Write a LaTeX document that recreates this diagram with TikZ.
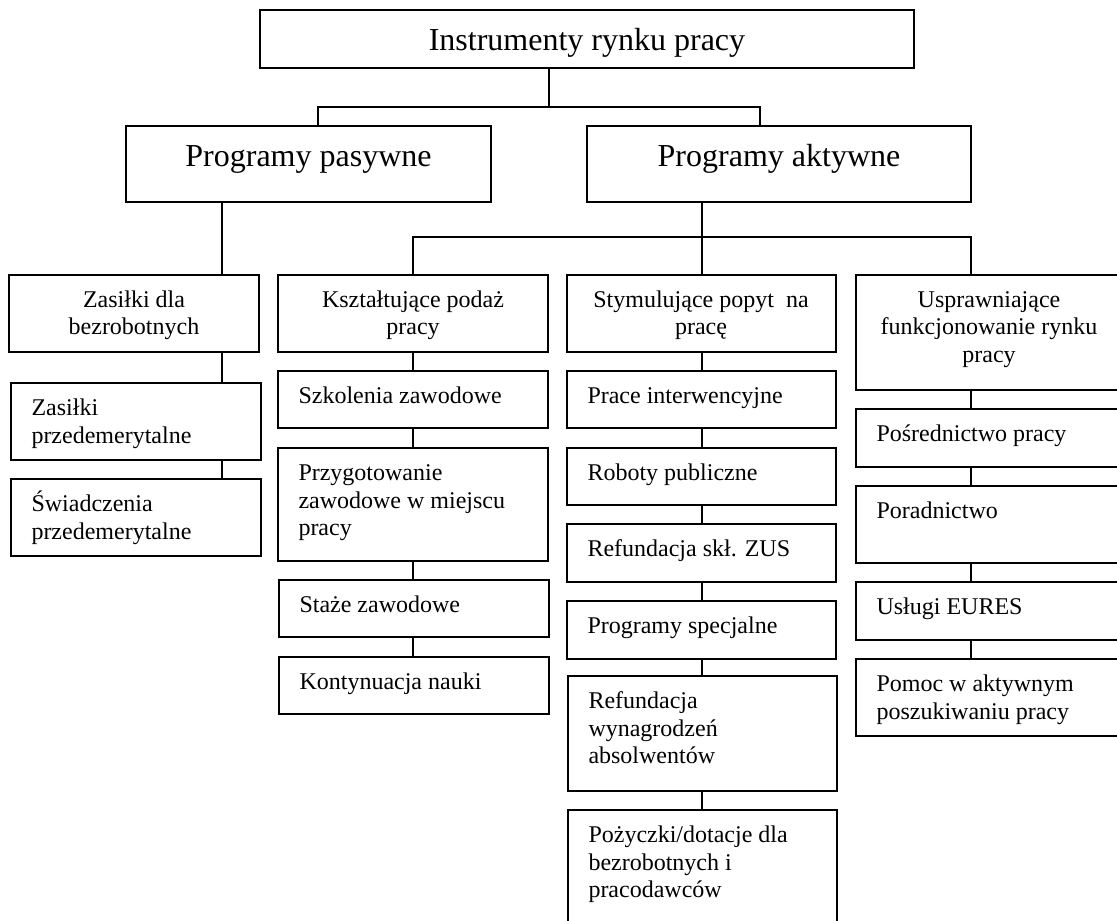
\documentclass[tikz,border=0pt]{standalone}
\usepackage{fontspec}
\setmainfont{Liberation Serif}
\tikzset{
  boxst/.style={draw=black, line width=1.6pt, inner sep=0pt, outer sep=0pt, fill=white},
  linkst/.style={draw=black, line width=1.3pt},
  txtst/.style={inner sep=0pt, outer sep=0pt, font=\fontsize{24}{27.5}\selectfont},
  bigst/.style={inner sep=0pt, outer sep=0pt, font=\fontsize{32}{36}\selectfont},
}
\newcommand\bx[5]{\node[boxst, minimum width={#4-#2}, minimum height={#5-#3}, anchor=north west] (#1) at (#2,#3) {};}
\newcommand\ltxt[2]{\node[txtst, anchor=base west] (#1-t) at ([xshift=20.5pt,yshift=-32.5pt]#1.north west) {\parbox[t]{260pt}{\raggedright #2}};}
\newcommand\ctxt[3]{\node[txtst, anchor=base] (#1-t) at (#2,307) {\parbox[t]{300pt}{\centering #3}};}
\begin{document}
\begin{tikzpicture}[x=1pt,y=-1pt]
\useasboundingbox (0,0) rectangle (1117,921);
\clip (0,0) rectangle (1117,921);
\fill[white] (0,0) rectangle (1117,921);

% top levels
\bx{top}{260}{10}{914}{68}
\node[bigst, anchor=base] (top-t) at (587,50.7) {Instrumenty rynku pracy};
\bx{pas}{126}{126}{491}{202}
\node[bigst, anchor=base] (pas-t) at (308.5,166.7) {Programy pasywne};
\bx{akt}{587}{126}{971}{202}
\node[bigst, anchor=base] (akt-t) at (779,166.7) {Programy aktywne};

% row 1
\bx{zas}{9}{275}{259}{352}
\ctxt{zas}{134}{Zasiłki dla\\bezrobotnych}
\bx{ksz}{278}{275}{548}{352}
\ctxt{ksz}{413}{Kształtujące podaż\\pracy}
\bx{sty}{567}{275}{836}{352}
\ctxt{sty}{701}{Stymulujące popyt~ na\\pracę}
\bx{usp}{856}{275}{1125}{390}
\ctxt{usp}{989}{Usprawniające\\funkcjonowanie rynku\\pracy}

% passive column
\bx{p1}{11}{383}{261}{460}
\ltxt{p1}{Zasiłki\\przedemerytalne}
\bx{p2}{11}{479}{261}{556}
\ltxt{p2}{Świadczenia\\przedemerytalne}

% supply column
\bx{k1}{278}{371}{548}{428}
\ltxt{k1}{Szkolenia zawodowe}
\bx{k2}{278}{448}{548}{561}
\ltxt{k2}{Przygotowanie\\zawodowe w miejscu\\pracy}
\bx{k3}{279}{580}{549}{637}
\ltxt{k3}{Staże zawodowe}
\bx{k4}{279}{657}{549}{714}
\ltxt{k4}{Kontynuacja nauki}

% demand column
\bx{s1}{567}{371}{836}{428}
\ltxt{s1}{Prace interwencyjne}
\bx{s2}{567}{448}{836}{505}
\ltxt{s2}{Roboty publiczne}
\bx{s3}{567}{524}{836}{582}
\ltxt{s3}{Refundacja skł. ZUS}
\bx{s4}{567}{601}{836}{659}
\ltxt{s4}{Programy specjalne}
\bx{s5}{568}{676}{837}{791}
\ltxt{s5}{Refundacja\\wynagrodzeń\\absolwentów}
\bx{s6}{568}{810}{837}{940}
\ltxt{s6}{Pożyczki/dotacje dla\\bezrobotnych i\\pracodawców}

% market column
\bx{u1}{856}{409}{1125}{467}
\ltxt{u1}{Pośrednictwo pracy}
\bx{u2}{856}{486}{1125}{563}
\ltxt{u2}{Poradnictwo}
\bx{u3}{856}{582}{1125}{640}
\ltxt{u3}{Usługi EURES}
\bx{u4}{856}{659}{1125}{736}
\ltxt{u4}{Pomoc w aktywnym\\poszukiwaniu pracy}

% junction coordinates
\coordinate (b0) at (549,107);
\coordinate (b0L) at (318,107);
\coordinate (b0R) at (760,107);
\coordinate (b1) at (702,237);
\coordinate (b1L) at (413,237);
\coordinate (b1R) at (971,237);
\coordinate (xp) at (222,0);
\coordinate (xu) at (971,0);

% connectors
\draw[linkst] (top.south -| b0) -- (b0);
\draw[linkst] (pas.north -| b0L) -- (b0L) -- (b0R) -- (akt.north -| b0R);
\draw[linkst] (pas.south -| xp) -- (zas.north -| xp);
\draw[linkst] (zas.south -| xp) -- (p1.north -| xp);
\draw[linkst] (p1.south -| xp) -- (p2.north -| xp);
\draw[linkst] (akt.south -| b1) -- (b1);
\draw[linkst] (ksz.north -| b1L) -- (b1L) -- (b1R) -- (usp.north -| b1R);
\draw[linkst] (b1) -- (sty.north -| b1);
\draw[linkst] (ksz.south) -- (k1.north);
\draw[linkst] (k1.south) -- (k2.north);
\draw[linkst] (k2.south) -- (k3.north -| k2.south);
\draw[linkst] (k3.south -| k2.south) -- (k4.north -| k2.south);
\draw[linkst] (sty.south -| b1) -- (s1.north -| b1);
\draw[linkst] (s1.south -| b1) -- (s2.north -| b1);
\draw[linkst] (s2.south -| b1) -- (s3.north -| b1);
\draw[linkst] (s3.south -| b1) -- (s4.north -| b1);
\draw[linkst] (s4.south -| b1) -- (s5.north -| b1);
\draw[linkst] (s5.south -| b1) -- (s6.north -| b1);
\draw[linkst] (usp.south -| xu) -- (u1.north -| xu);
\draw[linkst] (u1.south -| xu) -- (u2.north -| xu);
\draw[linkst] (u2.south -| xu) -- (u3.north -| xu);
\draw[linkst] (u3.south -| xu) -- (u4.north -| xu);
\end{tikzpicture}
\end{document}
